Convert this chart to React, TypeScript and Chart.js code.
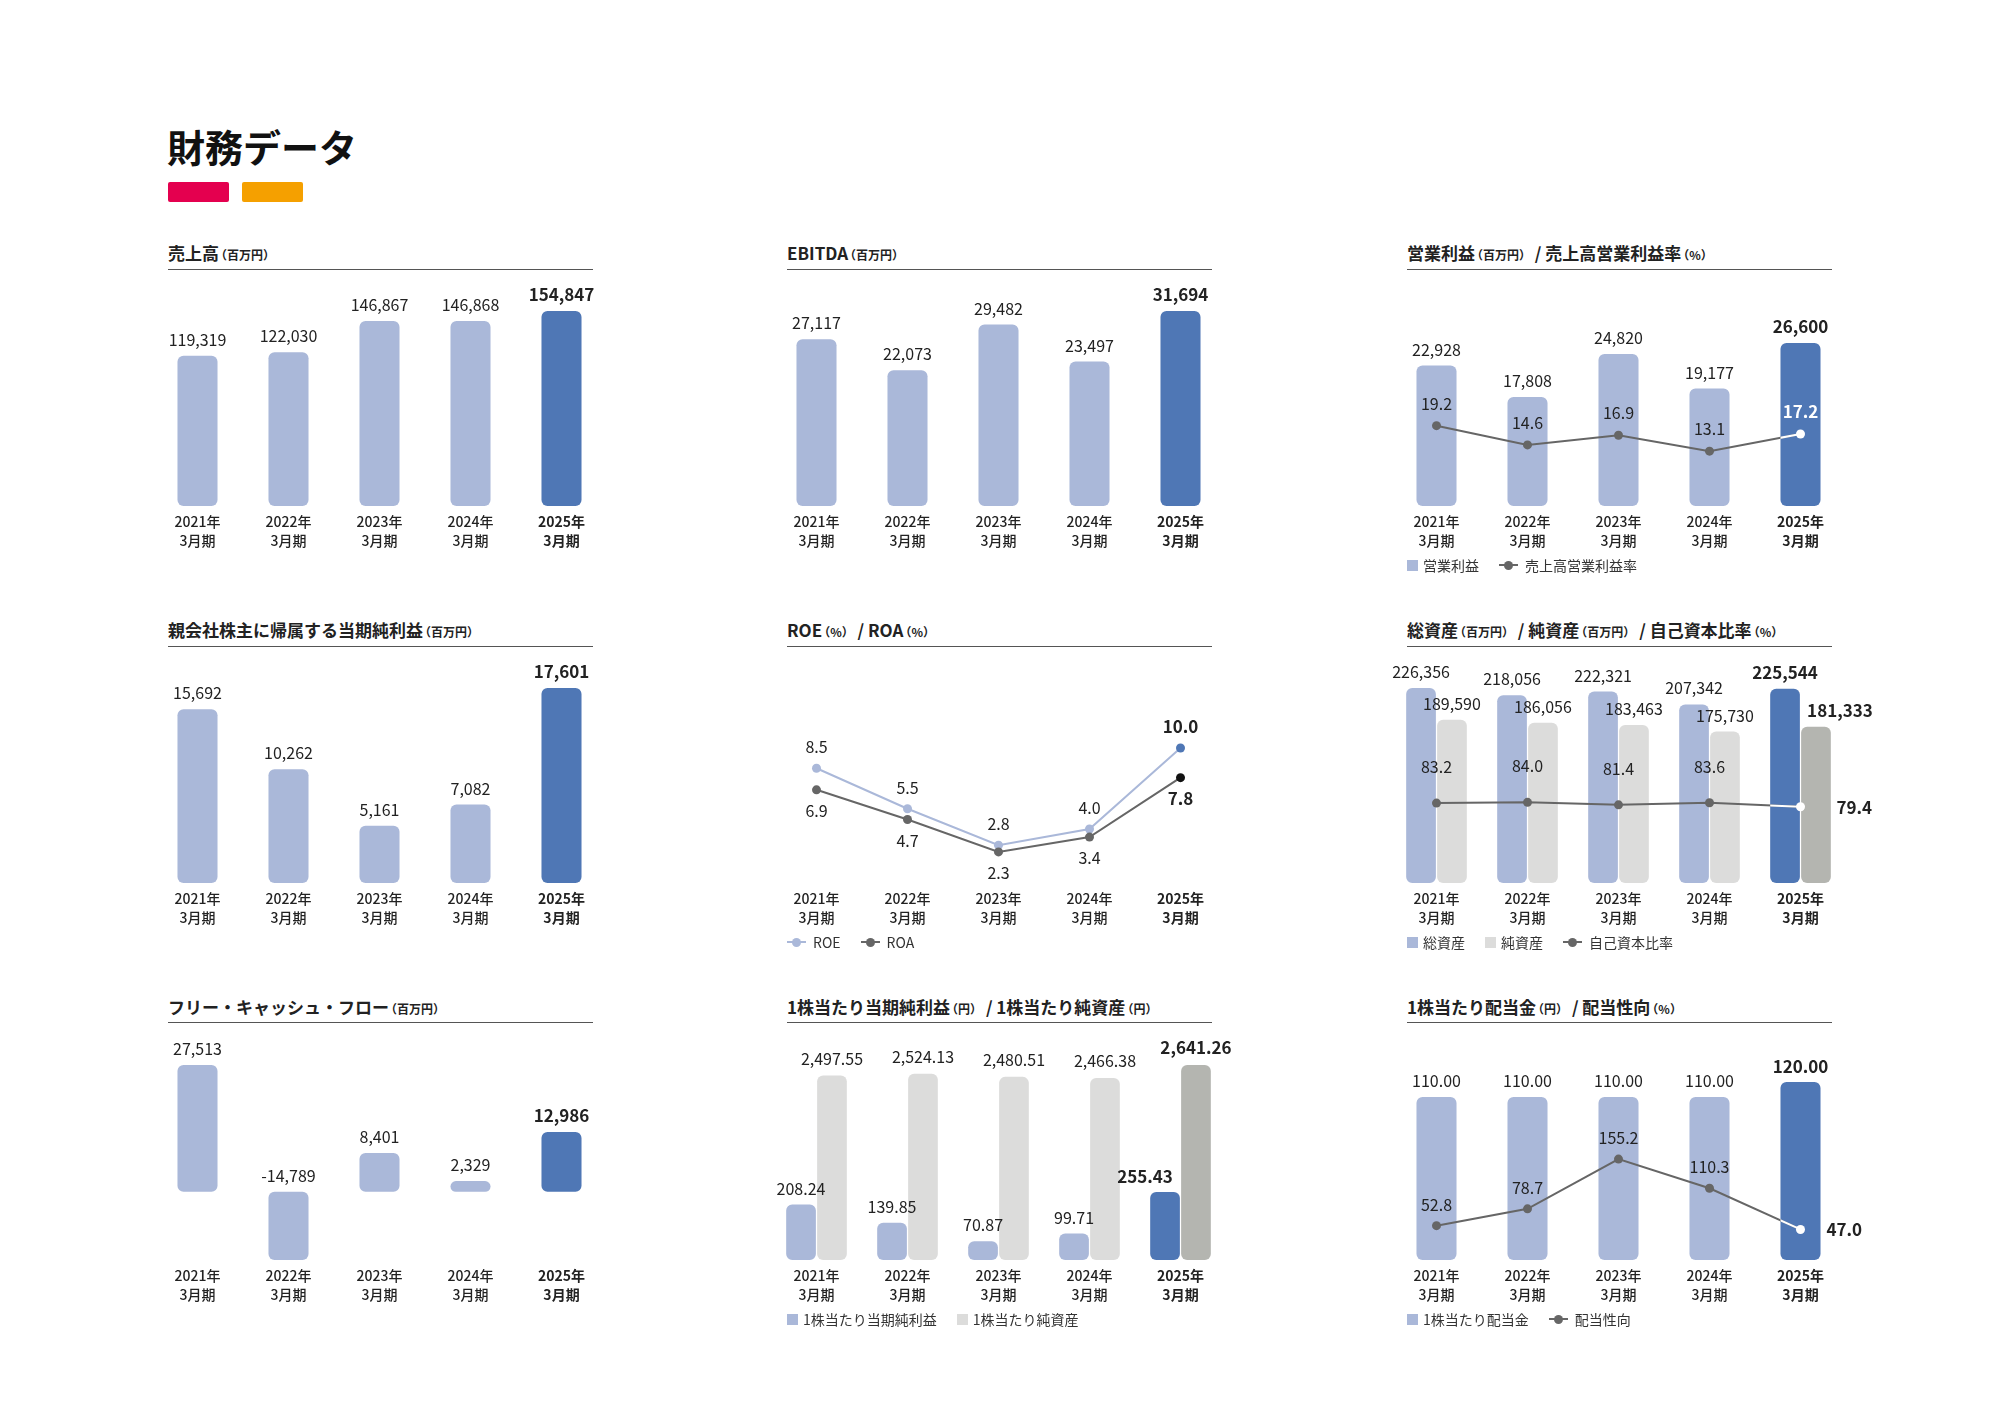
import React, { useEffect, useRef } from 'react';
import { Chart, registerables } from 'chart.js';

Chart.register(...registerables);

const FONT = '"Noto Sans CJK JP", "Noto Sans", sans-serif';

// ---------- data ----------
const years = ['2021年', '2022年', '2023年', '2024年', '2025年'];
const period = '3月期';

const sales = [119319, 122030, 146867, 146868, 154847];
const ebitda = [27117, 22073, 29482, 23497, 31694];
const opIncome = [22928, 17808, 24820, 19177, 26600];
const opMargin = [19.2, 14.6, 16.9, 13.1, 17.2];
const netIncome = [15692, 10262, 5161, 7082, 17601];
const roe = [8.5, 5.5, 2.8, 4.0, 10.0];
const roa = [6.9, 4.7, 2.3, 3.4, 7.8];
const totalAssets = [226356, 218056, 222321, 207342, 225544];
const netAssets = [189590, 186056, 183463, 175730, 181333];
const equityRatio = [83.2, 84.0, 81.4, 83.6, 79.4];
const fcf = [27513, -14789, 8401, 2329, 12986];
const eps = [208.24, 139.85, 70.87, 99.71, 255.43];
const bps = [2497.55, 2524.13, 2480.51, 2466.38, 2641.26];
const dps = [110.0, 110.0, 110.0, 110.0, 120.0];
const payout = [52.8, 78.7, 155.2, 110.3, 47.0];

// ---------- styles ----------
const LIGHT = '#aab8d9';
const DARK = '#4f77b5';
const GRAY = '#dcdcdb';
const GRAY_DARK = '#b4b5b0';
const LINE = '#666666';
const TEXT = '#222222';

const COLX = [168, 787, 1407];
const BAR_BOTTOM = [506, 883, 1260];
const SUB_Y = [253, 630, 1007];
const RULE_Y = [269, 646, 1022];
const PAD_TOP = 40;
const PAD_L = 20;
const PAD_R = 45;
const AREA_W = 455;
const AREA_H = 195;
const AXIS_H = 50;

// ---------- plugins ----------
const whiteSegmentPlugin = {
  id: 'whiteSegment',
  afterDatasetsDraw(chart: any, _args: any, opts: any) {
    if (!opts || opts.barIndex === undefined) return;
    const bar: any = chart.getDatasetMeta(opts.barIndex).data[4];
    const pts: any[] = chart.getDatasetMeta(opts.lineIndex).data;
    const a = pts[3];
    const b = pts[4];
    const ctx = chart.ctx;
    ctx.save();
    ctx.beginPath();
    ctx.rect(bar.x - bar.width / 2, Math.min(bar.y, bar.base), bar.width, Math.abs(bar.base - bar.y));
    ctx.clip();
    ctx.strokeStyle = '#ffffff';
    ctx.lineWidth = 2;
    ctx.beginPath();
    ctx.moveTo(a.x, a.y);
    ctx.lineTo(b.x, b.y);
    ctx.stroke();
    ctx.restore();
  },
};

const valueLabelPlugin = {
  id: 'valueLabels',
  afterDatasetsDraw(chart: any) {
    const ctx = chart.ctx;
    chart.data.datasets.forEach((ds: any, di: number) => {
      const cfg = ds.vl;
      if (!cfg) return;
      const meta = chart.getDatasetMeta(di);
      meta.data.forEach((el: any, j: number) => {
        const v = ds.data[j];
        const last = j === ds.data.length - 1;
        const text = Number(v).toLocaleString('en-US', {
          minimumFractionDigits: cfg.decimals,
          maximumFractionDigits: cfg.decimals,
        });
        const dy = Array.isArray(cfg.dy) ? cfg.dy[j] : cfg.dy;
        const x = el.x + (cfg.dx ? cfg.dx[j] : 0);
        const y = meta.type === 'bar' ? Math.min(el.y, el.base) + dy : el.y + dy;
        ctx.save();
        ctx.font = `${last ? 'bold' : 'normal'} ${last ? 17 : 16}px ${FONT}`;
        ctx.fillStyle = cfg.colors ? cfg.colors[j] : TEXT;
        ctx.textAlign = cfg.align ? cfg.align[j] : 'center';
        ctx.textBaseline = 'middle';
        ctx.fillText(text, x, y);
        ctx.restore();
      });
    });
  },
};

// ---------- config helpers ----------
const xScale = () => ({
  type: 'category',
  offset: true,
  grid: { display: false, drawTicks: false },
  border: { display: false },
  ticks: {
    padding: 6,
    autoSkip: false,
    maxRotation: 0,
    minRotation: 0,
    color: TEXT,
    font: (c: any) => ({ family: FONT, size: 14, weight: c.index === 4 ? 'bold' : '500', lineHeight: 19 / 14 }),
  },
});

const yHidden = (min: number, max: number) => ({ type: 'linear', display: false, min, max });

const baseOptions = (yScales: any, extraPlugins: any = {}) => ({
  animation: false,
  responsive: false,
  maintainAspectRatio: false,
  events: [],
  layout: { padding: { top: PAD_TOP, left: PAD_L, right: PAD_R, bottom: 0 } },
  plugins: {
    legend: { display: false },
    tooltip: { enabled: false },
    title: { display: false },
    ...extraPlugins,
  },
  scales: { x: xScale(), ...yScales },
});

const lastColor = (data: number[], base: string, last: string) =>
  data.map((_, i) => (i === data.length - 1 ? last : base));

const barDs = (data: number[], base: string, last: string, extra: any = {}) => ({
  type: 'bar',
  data,
  backgroundColor: lastColor(data, base, last),
  borderRadius: 6,
  borderSkipped: false,
  categoryPercentage: 1,
  barPercentage: 0.44,
  order: 2,
  yAxisID: 'y',
  vl: { dy: -16, decimals: 0 },
  ...extra,
});

const lineDs = (data: number[], color: string, last: string, extra: any = {}) => ({
  type: 'line',
  data,
  borderColor: color,
  borderWidth: 2,
  pointRadius: 4.5,
  pointHoverRadius: 4.5,
  pointBorderWidth: 0,
  pointBackgroundColor: lastColor(data, color, last),
  pointBorderColor: lastColor(data, color, last),
  tension: 0,
  fill: false,
  order: 0,
  yAxisID: 'y1',
  vl: { dy: -22, decimals: 1 },
  ...extra,
});

const labels = () => years.map((y) => [y, period]);
const PLUGINS = [whiteSegmentPlugin, valueLabelPlugin];

const cfgSales = () => ({
  type: 'bar',
  data: { labels: labels(), datasets: [barDs(sales, LIGHT, DARK)] },
  options: baseOptions({ y: yHidden(0, 154847) }),
  plugins: PLUGINS,
});

const cfgEbitda = () => ({
  type: 'bar',
  data: { labels: labels(), datasets: [barDs(ebitda, LIGHT, DARK)] },
  options: baseOptions({ y: yHidden(0, 31694) }),
  plugins: PLUGINS,
});

const cfgOp = () => ({
  type: 'bar',
  data: {
    labels: labels(),
    datasets: [
      barDs(opIncome, LIGHT, DARK),
      lineDs(opMargin, LINE, '#ffffff', {
        vl: { dy: -22, decimals: 1, colors: [TEXT, TEXT, TEXT, TEXT, '#ffffff'] },
      }),
    ],
  },
  options: baseOptions(
    { y: yHidden(0, 31822), y1: yHidden(0, 46.6) },
    { whiteSegment: { barIndex: 0, lineIndex: 1 } }
  ),
  plugins: PLUGINS,
});

const cfgNet = () => ({
  type: 'bar',
  data: { labels: labels(), datasets: [barDs(netIncome, LIGHT, DARK)] },
  options: baseOptions({ y: yHidden(0, 17601) }),
  plugins: PLUGINS,
});

const cfgRoe = () => ({
  type: 'line',
  data: {
    labels: labels(),
    datasets: [
      lineDs(roe, LIGHT, DARK, { yAxisID: 'y', order: 1, vl: { dy: -21, decimals: 1 } }),
      lineDs(roa, LINE, '#111111', { yAxisID: 'y', order: 0, vl: { dy: 21, decimals: 1 } }),
    ],
  },
  options: baseOptions({ y: yHidden(0, 14.44) }),
  plugins: PLUGINS,
});

const cfgAssets = () => ({
  type: 'bar',
  data: {
    labels: labels(),
    datasets: [
      barDs(totalAssets, LIGHT, DARK, { categoryPercentage: 0.68, barPercentage: 0.96 }),
      barDs(netAssets, GRAY, GRAY_DARK, {
        categoryPercentage: 0.68,
        barPercentage: 0.96,
        vl: { dy: -16, decimals: 0, dx: [0, 0, 0, 0, 24] },
      }),
      lineDs(equityRatio, LINE, '#ffffff', {
        vl: {
          dy: [-36, -36, -36, -36, 1],
          dx: [0, 0, 0, 0, 36],
          align: ['center', 'center', 'center', 'center', 'left'],
          decimals: 1,
        },
      }),
    ],
  },
  options: baseOptions(
    { y: yHidden(0, 226356), y1: yHidden(0, 203) },
    { whiteSegment: { barIndex: 0, lineIndex: 2 } }
  ),
  plugins: PLUGINS,
});

const cfgFcf = () => ({
  type: 'bar',
  data: { labels: labels(), datasets: [barDs(fcf, LIGHT, DARK)] },
  options: baseOptions({ y: yHidden(-14789, 27513) }),
  plugins: PLUGINS,
});

const cfgPerShare = () => ({
  type: 'bar',
  data: {
    labels: labels(),
    datasets: [
      barDs(eps, LIGHT, DARK, {
        categoryPercentage: 0.68,
        barPercentage: 0.96,
        yAxisID: 'y1',
        vl: { dy: -16, decimals: 2, dx: [0, 0, 0, 0, -20] },
      }),
      barDs(bps, GRAY, GRAY_DARK, {
        categoryPercentage: 0.68,
        barPercentage: 0.96,
        vl: { dy: -17, decimals: 2 },
      }),
    ],
  },
  options: baseOptions({ y: yHidden(0, 2641.26), y1: yHidden(0, 733) }),
  plugins: PLUGINS,
});

const cfgDividend = () => ({
  type: 'bar',
  data: {
    labels: labels(),
    datasets: [
      barDs(dps, LIGHT, DARK, { vl: { dy: -16, decimals: 2 } }),
      lineDs(payout, LINE, '#ffffff', {
        vl: {
          dy: [-21, -21, -21, -21, 0],
          dx: [0, 0, 0, 0, 26],
          align: ['center', 'center', 'center', 'center', 'left'],
          decimals: 1,
        },
      }),
    ],
  },
  options: baseOptions(
    { y: yHidden(0, 131.5), y1: yHidden(0, 300) },
    { whiteSegment: { barIndex: 0, lineIndex: 1 } }
  ),
  plugins: PLUGINS,
});

// ---------- components ----------
type Part = { t: string; s?: boolean };
type LegendItem = { kind: 'box' | 'line'; color: string; label: string };

const panels: { col: number; row: number; title: Part[]; make: () => any; legend?: LegendItem[] }[] = [
  { col: 0, row: 0, title: [{ t: '売上高' }, { t: '（百万円）', s: true }], make: cfgSales },
  { col: 1, row: 0, title: [{ t: 'EBITDA' }, { t: '（百万円）', s: true }], make: cfgEbitda },
  {
    col: 2,
    row: 0,
    title: [{ t: '営業利益' }, { t: '（百万円）', s: true }, { t: ' / 売上高営業利益率' }, { t: '（%）', s: true }],
    make: cfgOp,
    legend: [
      { kind: 'box', color: LIGHT, label: '営業利益' },
      { kind: 'line', color: LINE, label: '売上高営業利益率' },
    ],
  },
  {
    col: 0,
    row: 1,
    title: [{ t: '親会社株主に帰属する当期純利益' }, { t: '（百万円）', s: true }],
    make: cfgNet,
  },
  {
    col: 1,
    row: 1,
    title: [{ t: 'ROE' }, { t: '（%）', s: true }, { t: ' / ROA' }, { t: '（%）', s: true }],
    make: cfgRoe,
    legend: [
      { kind: 'line', color: LIGHT, label: 'ROE' },
      { kind: 'line', color: LINE, label: 'ROA' },
    ],
  },
  {
    col: 2,
    row: 1,
    title: [
      { t: '総資産' },
      { t: '（百万円）', s: true },
      { t: ' / 純資産' },
      { t: '（百万円）', s: true },
      { t: ' / 自己資本比率' },
      { t: '（%）', s: true },
    ],
    make: cfgAssets,
    legend: [
      { kind: 'box', color: LIGHT, label: '総資産' },
      { kind: 'box', color: GRAY, label: '純資産' },
      { kind: 'line', color: LINE, label: '自己資本比率' },
    ],
  },
  {
    col: 0,
    row: 2,
    title: [{ t: 'フリー・キャッシュ・フロー' }, { t: '（百万円）', s: true }],
    make: cfgFcf,
  },
  {
    col: 1,
    row: 2,
    title: [{ t: '1株当たり当期純利益' }, { t: '（円）', s: true }, { t: ' / 1株当たり純資産' }, { t: '（円）', s: true }],
    make: cfgPerShare,
    legend: [
      { kind: 'box', color: LIGHT, label: '1株当たり当期純利益' },
      { kind: 'box', color: GRAY, label: '1株当たり純資産' },
    ],
  },
  {
    col: 2,
    row: 2,
    title: [{ t: '1株当たり配当金' }, { t: '（円）', s: true }, { t: ' / 配当性向' }, { t: '（%）', s: true }],
    make: cfgDividend,
    legend: [
      { kind: 'box', color: LIGHT, label: '1株当たり配当金' },
      { kind: 'line', color: LINE, label: '配当性向' },
    ],
  },
];

function ChartCanvas({ make, left, top }: { make: () => any; left: number; top: number }) {
  const ref = useRef<HTMLCanvasElement>(null);
  const width = PAD_L + AREA_W + PAD_R;
  const height = PAD_TOP + AREA_H + AXIS_H;
  useEffect(() => {
    if (!ref.current) return;
    const chart = new Chart(ref.current, make());
    return () => chart.destroy();
  }, [make]);
  return (
    <canvas
      ref={ref}
      width={width}
      height={height}
      style={{ position: 'absolute', left, top, width, height }}
    />
  );
}

function Legend({ items, left, top }: { items: LegendItem[]; left: number; top: number }) {
  return (
    <div
      style={{
        position: 'absolute',
        left,
        top: top - 10,
        height: 20,
        display: 'flex',
        alignItems: 'center',
        fontFamily: FONT,
        fontSize: 14,
        color: '#333',
        whiteSpace: 'nowrap',
      }}
    >
      {items.map((it, i) => (
        <div key={i} style={{ display: 'flex', alignItems: 'center', marginRight: 20 }}>
          {it.kind === 'box' ? (
            <div style={{ width: 11, height: 11, background: it.color, marginRight: 5 }} />
          ) : (
            <div style={{ position: 'relative', width: 19, height: 10, marginRight: 7 }}>
              <div style={{ position: 'absolute', left: 0, top: 4, width: 19, height: 2, background: it.color }} />
              <div
                style={{
                  position: 'absolute',
                  left: 5,
                  top: 0.5,
                  width: 9,
                  height: 9,
                  borderRadius: '50%',
                  background: it.color,
                }}
              />
            </div>
          )}
          <span>{it.label}</span>
        </div>
      ))}
    </div>
  );
}

export default function App() {
  return (
    <div
      style={{
        position: 'absolute',
        left: 0,
        top: 0,
        width: 2000,
        height: 1413,
        background: '#ffffff',
        overflow: 'hidden',
        fontFamily: FONT,
        color: TEXT,
      }}
    >
      <div
        style={{
          position: 'absolute',
          left: 167,
          top: 125,
          fontSize: 38,
          lineHeight: '42px',
          fontWeight: 700,
          color: '#111',
          whiteSpace: 'nowrap',
        }}
      >
        財務データ
      </div>
      <div style={{ position: 'absolute', left: 168, top: 182, width: 61, height: 20, background: '#e4004f', borderRadius: 2 }} />
      <div style={{ position: 'absolute', left: 242, top: 182, width: 61, height: 20, background: '#f5a000', borderRadius: 2 }} />

      {panels.map((p, i) => {
        const x = COLX[p.col];
        return (
          <React.Fragment key={i}>
            <div
              style={{
                position: 'absolute',
                left: x,
                top: SUB_Y[p.row] - 12,
                height: 24,
                lineHeight: '24px',
                fontWeight: 700,
                fontSize: 17,
                color: '#222',
                whiteSpace: 'nowrap',
              }}
            >
              {p.title.map((part, k) => (
                <span
                  key={k}
                  style={part.s ? { fontSize: 12, marginLeft: -4 } : { whiteSpace: 'pre' }}
                >
                  {part.t}
                </span>
              ))}
            </div>
            <div
              style={{
                position: 'absolute',
                left: x,
                top: RULE_Y[p.row],
                width: 425,
                height: 1,
                background: '#555',
              }}
            />
            <ChartCanvas make={p.make} left={x - 36} top={BAR_BOTTOM[p.row] - AREA_H - PAD_TOP} />
            {p.legend && <Legend items={p.legend} left={x} top={BAR_BOTTOM[p.row] + 59} />}
          </React.Fragment>
        );
      })}
    </div>
  );
}
